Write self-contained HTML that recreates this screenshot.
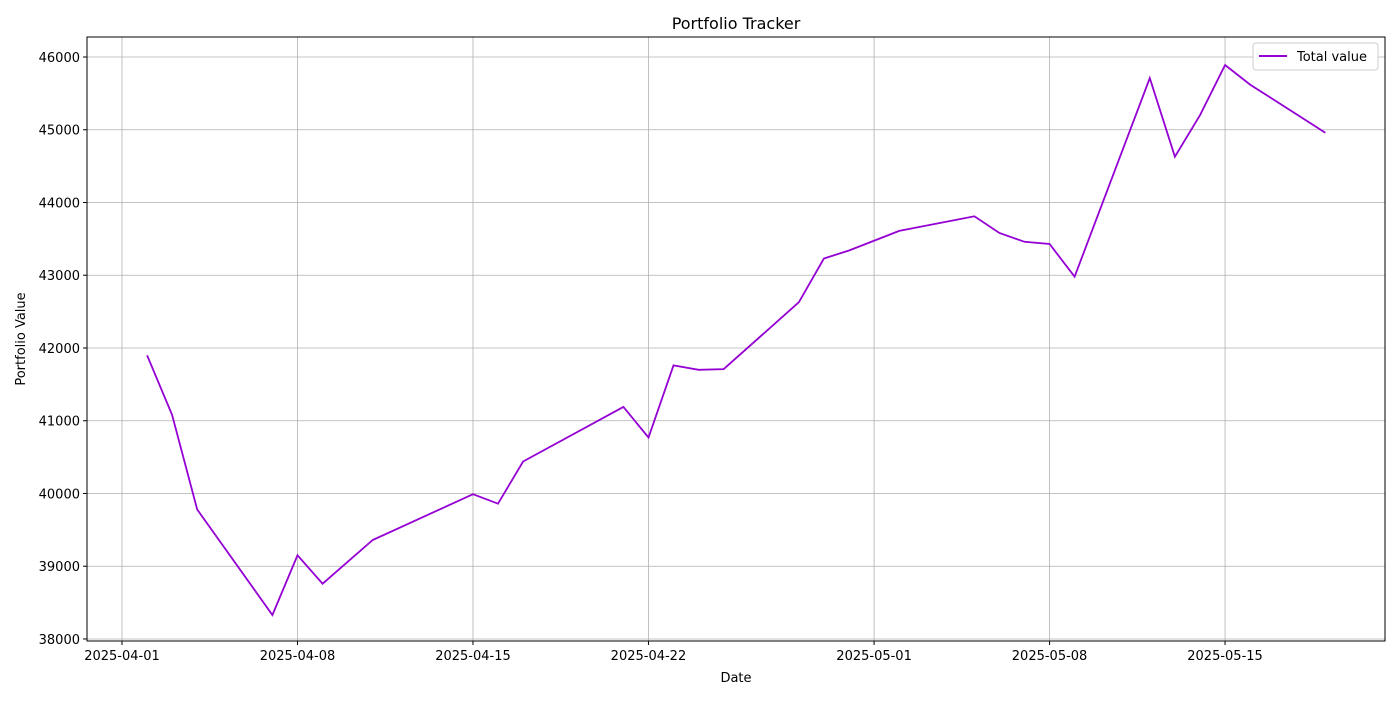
<!DOCTYPE html>
<html><head><meta charset="utf-8"><style>
body{margin:0;background:#fff;}
svg text{font-family:"DejaVu Sans","Liberation Sans",sans-serif;fill:#000;}
</style></head><body>
<svg id="chart" width="1400" height="700" xmlns="http://www.w3.org/2000/svg">
<rect width="1400" height="700" fill="#fff"/>
<g id="grid"></g><g id="axes"></g><g id="series"></g>
<text x="736" y="29" text-anchor="middle" font-size="16">Portfolio Tracker</text>
<text x="736" y="682" text-anchor="middle" font-size="13">Date</text>
<text transform="translate(25,339) rotate(-90)" text-anchor="middle" font-size="13">Portfolio Value</text>
<g>
<rect x="1253" y="43" width="125" height="27" rx="3" fill="#fff" stroke="#ccc"/>
<line x1="1259" y1="56" x2="1287" y2="56" stroke="#9400d3" stroke-width="2"/>
<text x="1297" y="61" font-size="13">Total value</text>
</g>
</svg>
<script>
const dayOffsets=[1,2,3,6,7,8,10,14,15,16,20,21,22,23,24,27,28,29,31,34,35,36,37,38,41,42,43,44,45,48];
const values=[41900,41080,39780,38330,39150,38760,39360,39990,39860,40440,41190,40770,41760,41700,41710,42630,43230,43340,43610,43810,43580,43460,43430,42980,45710,44630,45200,45890,45620,44960];
const xTickDays=[0,7,14,21,30,37,44];
const xTickLabels=["2025-04-01","2025-04-08","2025-04-15","2025-04-22","2025-05-01","2025-05-08","2025-05-15"];
const yTicks=[38000,39000,40000,41000,42000,43000,44000,45000,46000];
const L=87,R=1385,T=37,B=641;
const dMin=-1.396,dMax=50.38,vMin=37972,vMax=46275;
const xs=d=>L+(d-dMin)/(dMax-dMin)*(R-L);
const ys=v=>B-(v-vMin)/(vMax-vMin)*(B-T);
const NS="http://www.w3.org/2000/svg";
function mk(t,a,p){const e=document.createElementNS(NS,t);for(const k in a)e.setAttribute(k,a[k]);p.appendChild(e);return e;}
const grid=document.getElementById('grid'),axes=document.getElementById('axes'),ser=document.getElementById('series');
xTickDays.forEach((d,i)=>{const x=xs(d);
const g=mk('line',{x1:x,x2:x,y1:T,y2:B,stroke:'#b0b0b0','stroke-width':0.8},grid);


mk('line',{x1:x,x2:x,y1:B,y2:B+4,stroke:'#000'},axes);
const t=mk('text',{x:x,y:B+19,'text-anchor':'middle','font-size':13},axes);t.textContent=xTickLabels[i];

});
yTicks.forEach(v=>{const y=ys(v);
const g=mk('line',{x1:L,x2:R,y1:y,y2:y,stroke:'#b0b0b0','stroke-width':0.8},grid);


mk('line',{x1:L-4,x2:L,y1:y,y2:y,stroke:'#000'},axes);
const t=mk('text',{x:L-7,y:y+5,'text-anchor':'end','font-size':13},axes);t.textContent=v;

});
const fr=mk('rect',{x:L,y:T,width:R-L,height:B-T,fill:'none',stroke:'#000','stroke-width':1},axes);


const pts=dayOffsets.map((d,i)=>xs(d).toFixed(1)+','+ys(values[i]).toFixed(1)).join(' ');
const pl=mk('polyline',{points:pts,fill:'none',stroke:'#9400d3','stroke-width':1.8},ser);


</script>
</body></html>
